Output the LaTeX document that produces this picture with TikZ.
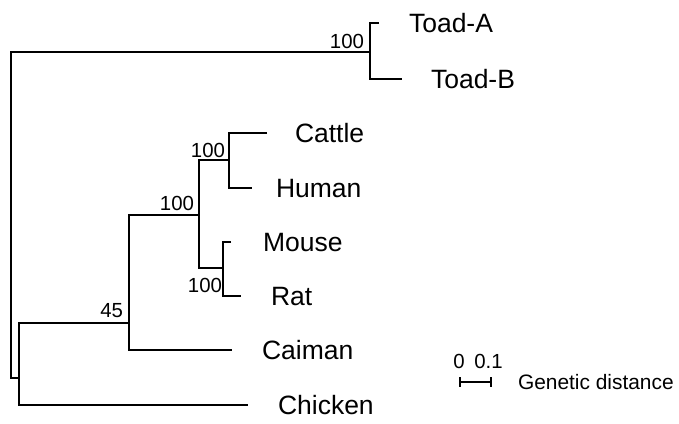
\documentclass[tikz,border=0pt]{standalone}
\usepackage{fontspec}
\setmainfont{Liberation Sans}
\begin{document}
\begin{tikzpicture}[x=0.5pt,y=-0.5pt,line width=1pt,
  taxon/.style={anchor=base west,inner sep=0pt,font=\fontsize{13.25}{15}\selectfont},
  boot/.style={anchor=base east,inner sep=0pt,font=\fontsize{10.2}{12}\selectfont},
  scalelab/.style={anchor=base,inner sep=0pt,font=\fontsize{10.2}{12}\selectfont}]
\useasboundingbox (0,0) rectangle (679,423);
% inner nodes of the tree
\coordinate (root) at (11,378);
\coordinate (toads) at (370,52);
\coordinate (amniote) at (19,378);
\coordinate (reptmam) at (129,323);
\coordinate (mammals) at (199,215);
\coordinate (cathum) at (229,160);
\coordinate (rodents) at (223,268);
% tips
\coordinate (tA) at (379,23);
\coordinate (tB) at (402,79);
\coordinate (cattle) at (267,133);
\coordinate (human) at (252,188);
\coordinate (mouse) at (231,242);
\coordinate (rat) at (241,296);
\coordinate (caiman) at (232,350);
\coordinate (chicken) at (248,405);
% branches
\draw (toads) -| (root) -- (amniote);
\draw (tA) -| (toads) |- (tB);
\draw (reptmam) -| (amniote) |- (chicken);
\draw (mammals) -| (reptmam) |- (caiman);
\draw (cathum) -| (mammals) |- (rodents);
\draw (cattle) -| (cathum) |- (human);
\draw (mouse) -| (rodents) |- (rat);
% taxa
\node[taxon] (ltA) at (408,32.5) {Toad-A};
\node[taxon] (ltB) at (430,88.5) {Toad-B};
\node[taxon] (lcattle) at (294,142.5) {Cattle};
\node[taxon] (lhuman) at (275,197.5) {Human};
\node[taxon] (lmouse) at (262,251.5) {Mouse};
\node[taxon] (lrat) at (270,305.5) {Rat};
\node[taxon] (lcaiman) at (261,359.5) {Caiman};
\node[taxon] (lchicken) at (277,414.5) {Chicken};
% bootstrap values
\node[boot] (btoads) at (365,48) {100};
\node[boot] (bmammals) at (195,210) {100};
\node[boot] (bcathum) at (226,157) {100};
\node[boot] (brodents) at (223,292) {100};
\node[boot] (breptmam) at (124,317) {45};
% scale bar
\coordinate (sb0) at (460,382);
\coordinate (sb1) at (491,382);
\draw (sb0) -- (sb1);
\draw (sb0) ++(0,-5) -- ++(0,10);
\draw (sb1) ++(0,-5) -- ++(0,10);
\node[scalelab] (lzero) at (459,368) {0};
\node[scalelab] (lone) at (488.5,368) {0.1};
\node[anchor=base west,inner sep=0pt,font=\fontsize{10.45}{12}\selectfont] (lscale) at (517,389.5) {Genetic distance};
\end{tikzpicture}
\end{document}
